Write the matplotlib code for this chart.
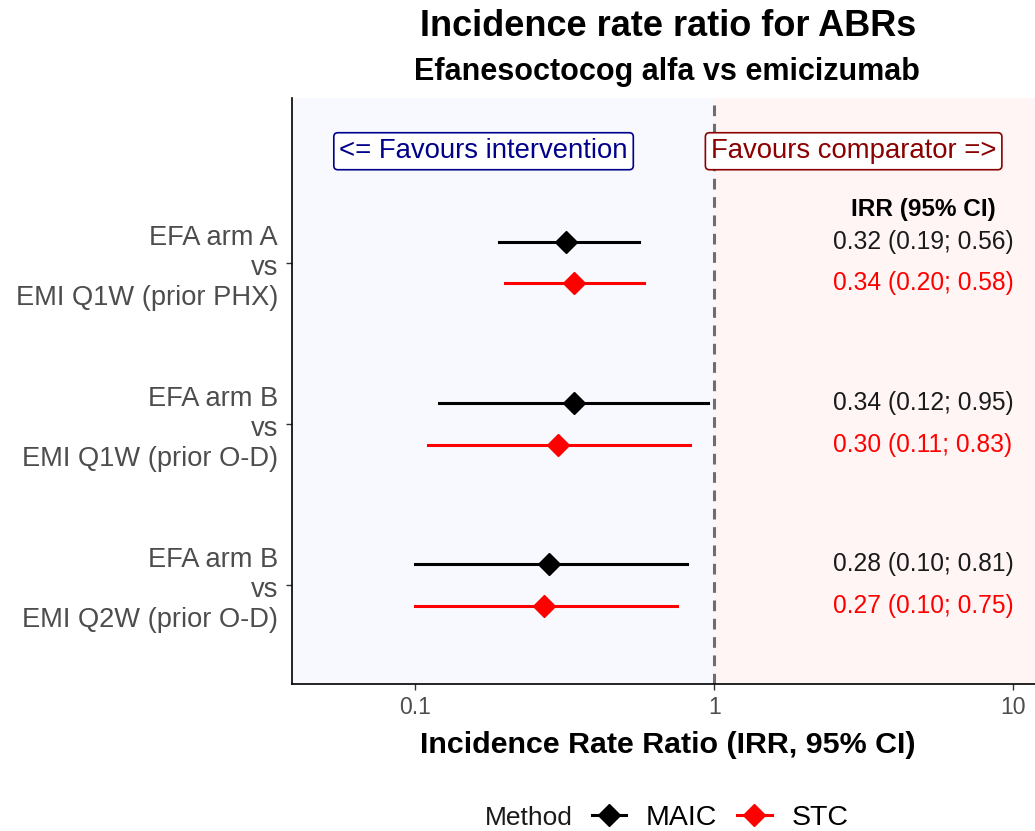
import numpy as np
import matplotlib
matplotlib.use('Agg')
import matplotlib.pyplot as plt
from matplotlib.lines import Line2D

plt.rcParams.update({'font.family': ['Liberation Sans', 'DejaVu Sans']})

# data
comparisons = ['EFA arm A\nvs\nEMI Q1W (prior PHX)',
               'EFA arm B\nvs\nEMI Q1W (prior O-D)',
               'EFA arm B\nvs\nEMI Q2W (prior O-D)']
maic_irr = [0.32, 0.34, 0.28]
maic_lo = [0.19, 0.12, 0.10]
maic_hi = [0.56, 0.95, 0.81]
stc_irr = [0.34, 0.30, 0.27]
stc_lo = [0.20, 0.11, 0.10]
stc_hi = [0.58, 0.83, 0.75]

GRAY30 = '#4D4D4D'
BG_LEFT, BG_RIGHT = '#F8F8FF', '#FFF5F5'

fig = plt.figure(figsize=(10.35, 8.31), dpi=100)
ax = fig.add_axes([292/1035, 1 - 684/831, 1 - 292/1035, (684 - 98)/831])

xmin, xmax = 0.0386, 11.86
ymin, ymax = 0.387, 4.02
ax.set_xscale('log')
ax.set_xlim(xmin, xmax)
ax.set_ylim(ymin, ymax)
ax.axvspan(xmin, 1, color=BG_LEFT, zorder=0)
ax.axvspan(1, xmax, color=BG_RIGHT, zorder=0)
ax.axvline(1, color='#6E6E6E', lw=2.2, ls=(0, (3.5, 2.5)), zorder=1)

ypos = np.array([3, 2, 1])
off = 0.13
fmt = lambda e, l, h: f'{e:.2f} ({l:.2f}; {h:.2f})'
for y, e, l, h in zip(ypos + off, maic_irr, maic_lo, maic_hi):
    ax.plot([l, h], [y, y], color='black', lw=2.2, zorder=3)
    ax.plot(e, y, marker='D', ms=11, color='black', zorder=4)
    ax.text(5, y, fmt(e, l, h), ha='center', va='center', fontsize=17.7, color='#1A1A1A')
for y, e, l, h in zip(ypos - off, stc_irr, stc_lo, stc_hi):
    ax.plot([l, h], [y, y], color='red', lw=2.2, zorder=3)
    ax.plot(e, y, marker='D', ms=11, color='red', zorder=4)
    ax.text(5, y, fmt(e, l, h), ha='center', va='center', fontsize=17.7, color='red')

ax.text(5, 3.33, 'IRR (95% CI)', ha='center', va='center', fontsize=17.6,
        fontweight='bold', color='black')
ax.text(0.169, 3.69, '<= Favours intervention', ha='center', va='center',
        fontsize=19.8, color='#00008B',
        bbox=dict(boxstyle='round,pad=0.2,rounding_size=0.15', fc='white', ec='#00008B', lw=1.2))
ax.text(2.93, 3.69, 'Favours comparator =>', ha='center', va='center',
        fontsize=19.8, color='#8B0000',
        bbox=dict(boxstyle='round,pad=0.2,rounding_size=0.15', fc='white', ec='#8B0000', lw=1.2))

ax.set_yticks(ypos)
ax.set_yticklabels(comparisons, fontsize=19.6, color=GRAY30, ha='right')
ax.set_xticks([0.1, 1, 10])
ax.set_xticklabels(['0.1', '1', '10'], fontsize=16.6, color=GRAY30)
ax.xaxis.set_minor_locator(matplotlib.ticker.NullLocator())
ax.tick_params(axis='both', length=4, width=1, color='#333333')
ax.tick_params(axis='x', pad=5)
ax.tick_params(axis='y', pad=6)
for s in ['top', 'right']:
    ax.spines[s].set_visible(False)
for s in ['left', 'bottom']:
    ax.spines[s].set_linewidth(1.2)
    ax.spines[s].set_color('black')

fig.text(668/1035, 1 - 27/831, 'Incidence rate ratio for ABRs', ha='center', va='center',
         fontsize=26, fontweight='bold')
fig.text(667/1035, 1 - 72/831, 'Efanesoctocog alfa vs emicizumab', ha='center', va='center',
         fontsize=22, fontweight='bold')
fig.text(668/1035, 1 - 745/831, 'Incidence Rate Ratio (IRR, 95% CI)', ha='center', va='center',
         fontsize=21.9, fontweight='bold')

fig.text(485/1035, 1 - 818/831, 'Method', ha='left', va='center', fontsize=19, color='#1A1A1A')
handles = [Line2D([0], [0], color='black', lw=2.2, marker='D', ms=11),
           Line2D([0], [0], color='red', lw=2.2, marker='D', ms=11)]
fig.legend(handles, ['MAIC', 'STC'], loc='center left', ncol=2, frameon=False,
           bbox_to_anchor=(592/1035, 1 - 818/831), fontsize=20.5, handlelength=1.2,
           handletextpad=0.7, columnspacing=0.7, borderpad=0, borderaxespad=0)

fig.savefig('out.png', dpi=100)
